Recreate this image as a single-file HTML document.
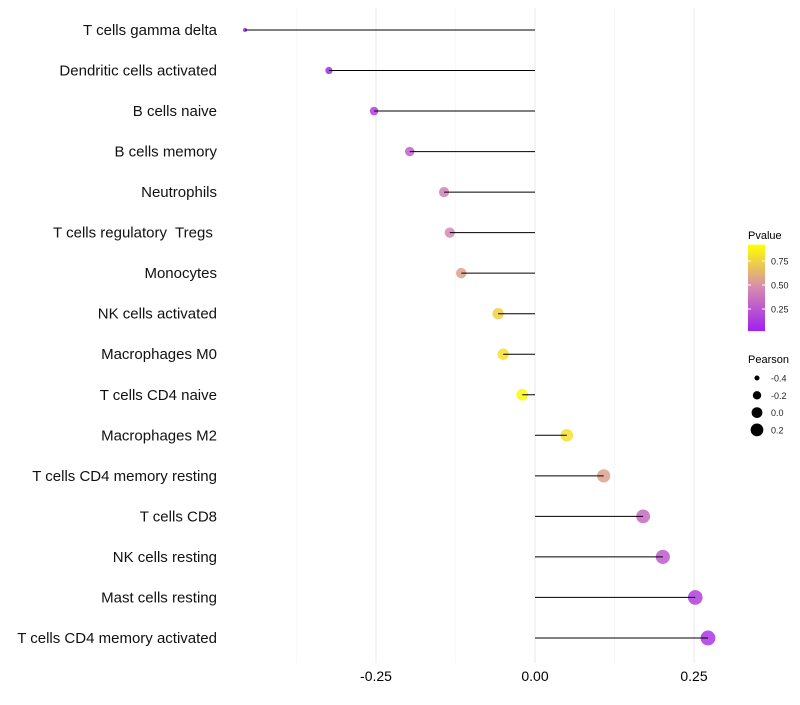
<!DOCTYPE html>
<html><head><meta charset="utf-8"><style>
body{margin:0;background:#fff;width:800px;height:700px;overflow:hidden;font-family:"Liberation Sans",sans-serif}
text{white-space:pre}
</style></head><body>
<svg id="chart" width="800" height="700" xmlns="http://www.w3.org/2000/svg"></svg>
<script>
const categories=["T cells gamma delta","Dendritic cells activated","B cells naive","B cells memory","Neutrophils","T cells regulatory  Tregs ","Monocytes","NK cells activated","Macrophages M0","T cells CD4 naive","Macrophages M2","T cells CD4 memory resting","T cells CD8","NK cells resting","Mast cells resting","T cells CD4 memory activated"];
const pearson=[-0.456,-0.324,-0.253,-0.197,-0.143,-0.134,-0.116,-0.058,-0.050,-0.020,0.050,0.108,0.170,0.201,0.252,0.272];
const pvalues=[0.02,0.05,0.15,0.3,0.45,0.5,0.6,0.8,0.87,0.97,0.87,0.6,0.35,0.27,0.15,0.1];
const xTicks=[-0.25,0,0.25];
const xTickLabels=["-0.25","0.00","0.25"];
const xMinor=[-0.375,-0.125,0.125];
const colorTicks=[0.25,0.5,0.75];
const sizeLegend=[-0.4,-0.2,0.0,0.2];
const sizeLegendLabels=["-0.4","-0.2","0.0","0.2"];

const svg=document.getElementById('chart');
const NS='http://www.w3.org/2000/svg';
const X=v=>535+v*636;
const Y=i=>30+i*40.53;
const R=p=>Math.sqrt(Math.max(2,36+70*p));
const stops=[[0,[160,32,240]],[0.5,[213,138,176]],[1,[255,255,0]]];
function col(p){p=Math.max(0,Math.min(1,p));for(let k=0;k<stops.length-1;k++){const a=stops[k],b=stops[k+1];if(p<=b[0]){const t=(p-a[0])/(b[0]-a[0]);const c=a[1].map((v,j)=>Math.round(v+(b[1][j]-v)*t));return `rgb(${c})`;}}}
function el(tag,attrs,parent){const e=document.createElementNS(NS,tag);for(const k in attrs)e.setAttribute(k,attrs[k]);(parent||svg).appendChild(e);return e;}
const CY=p=>333-p*96;

xMinor.forEach(v=>{const l=el('line',{x1:X(v),x2:X(v),y1:8,y2:663,stroke:'#f2f2f2','stroke-width':0.6});

});
xTicks.forEach((v,i)=>{const l=el('line',{x1:X(v),x2:X(v),y1:8,y2:663,stroke:'#ebebeb','stroke-width':1.1});


const t=el('text',{x:X(v),y:681,'text-anchor':'middle','font-size':14,fill:'#000'});t.textContent=xTickLabels[i];

});

categories.forEach((c,i)=>{
const t=el('text',{x:217,y:Y(i)+5,'text-anchor':'end','font-size':15,fill:'#111'});t.textContent=c;


const d=el('circle',{cx:X(pearson[i]),cy:Y(i),r:R(pearson[i]),fill:col(pvalues[i]),'fill-opacity':0.85});


const l=el('line',{x1:X(0),x2:X(pearson[i]),y1:Y(i),y2:Y(i),stroke:'#000','stroke-width':1});


});

const defs=el('defs',{});
const g=el('linearGradient',{id:'pg',x1:0,y1:1,x2:0,y2:0},defs);
stops.forEach(s=>el('stop',{offset:s[0],'stop-color':col(s[0])},g));
const lt=el('text',{x:748,y:239,'font-size':11,fill:'#000'});lt.textContent='Pvalue';


const bar=el('rect',{x:748,y:CY(0.92),width:17,height:CY(0.02)-CY(0.92),fill:'url(#pg)'});


colorTicks.forEach(v=>{el('line',{x1:748,x2:751,y1:CY(v),y2:CY(v),stroke:'#fff'});el('line',{x1:762,x2:765,y1:CY(v),y2:CY(v),stroke:'#fff'});
const t=el('text',{x:771,y:CY(v)+3.5,'font-size':9,fill:'#222'});t.textContent=v.toFixed(2);

});
const st=el('text',{x:748,y:363,'font-size':11,fill:'#000'});st.textContent='Pearson';


sizeLegend.forEach((v,i)=>{const y=378+i*17.3;
const c=el('circle',{cx:757,cy:y,r:R(v)*0.9,fill:'#000'});


const t=el('text',{x:771,y:y+3.5,'font-size':9,fill:'#222'});t.textContent=sizeLegendLabels[i];

});
</script>
</body></html>
